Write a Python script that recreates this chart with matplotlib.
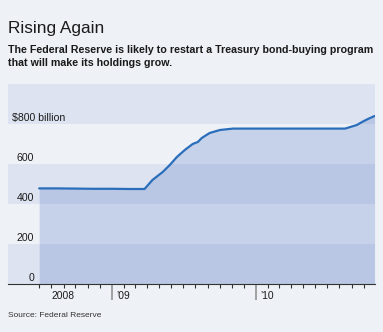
import matplotlib
matplotlib.use("Agg")
import matplotlib.pyplot as plt
import matplotlib.transforms as mtransforms
from datetime import datetime

plt.rcParams['font.family'] = ['Liberation Sans', 'DejaVu Sans']

# ---- data ----
dates = ["2008-07-01", "2008-08-15", "2008-10-01", "2008-11-15", "2009-01-01",
         "2009-02-15", "2009-03-25", "2009-04-14", "2009-05-10", "2009-05-28",
         "2009-06-15", "2009-07-05", "2009-07-25", "2009-08-07", "2009-08-17",
         "2009-09-06", "2009-10-02", "2009-11-04", "2010-01-15", "2010-04-01",
         "2010-06-15", "2010-08-15", "2010-09-14", "2010-09-29", "2010-10-12",
         "2010-10-29"]
values = [478, 478, 477, 476, 476,
          475, 475, 520, 560, 595,
          635, 670, 700, 710, 730,
          755, 770, 777, 777, 777,
          777, 777, 795, 812, 825,
          840]
y_ticks = [0, 200, 400, 600, 800]
y_labels = ["0", "200", "400", "600", "$800 billion"]
year_labels = ["2008", "\u201909", "\u201910"]
year_label_dates = ["2008-08-01", "2009-01-12", "2010-01-12"]
title = "Rising Again"
subtitle_lines = ["The Federal Reserve is likely to restart a Treasury bond-buying program",
                  "that will make its holdings grow."]
source = "Source: Federal Reserve"

x = [datetime.strptime(d, "%Y-%m-%d") for d in dates]

BG = "#eef2f7"
BAND = "#dde3f0"
LINE = "#2a6ebb"
FILL = "#4e76c3"
TXT = "#1a1a1a"

W, H = 383, 332
fig = plt.figure(figsize=(W / 100, H / 100), dpi=100, facecolor=BG)
ax = fig.add_axes([8 / W, (H - 284) / H, (375 - 8) / W, 200 / H])
ax.set_facecolor(BG)

ax.set_xlim(datetime(2008, 4, 13), datetime(2010, 10, 30))
ax.set_ylim(0, 1000)

# alternating bands
for lo in (0, 400, 800):
    ax.axhspan(lo, lo + 200, color=BAND, zorder=0, lw=0)

ax.fill_between(x, 0, values, color=FILL, alpha=0.25, lw=0, zorder=1)
ax.plot(x, values, color=LINE, lw=1.6, zorder=3, solid_capstyle="round")

for s in ("top", "right", "left"):
    ax.spines[s].set_visible(False)
ax.spines["bottom"].set_color("#333333")
ax.spines["bottom"].set_linewidth(0.8)
ax.set_yticks([])

# x ticks: monthly minor, yearly major
minor = [datetime(y, m, 1) for y in (2008, 2009, 2010) for m in range(1, 13)
         if datetime(2008, 7, 1) <= datetime(y, m, 1) <= datetime(2010, 10, 1) and m != 1]
major = [datetime(2009, 1, 1), datetime(2010, 1, 1)]
ax.set_xticks(major)
ax.set_xticklabels([])
ax.set_xticks(minor, minor=True)
ax.tick_params(axis="x", which="minor", length=3, width=0.8, color="#333333", direction="out")
ax.tick_params(axis="x", which="major", length=11.5, width=1.3, color="#9a9a9a", direction="out")

# y labels inside the plot
ytr = mtransforms.blended_transform_factory(ax.transAxes, ax.transData)
for v, lab in zip(y_ticks, y_labels):
    if lab.startswith("$"):
        ax.text(4 / 367, v + 16, lab, transform=ytr, ha="left", va="baseline",
                fontsize=7.6, color=TXT)
    else:
        ax.text(26 / 367, v + 16, lab, transform=ytr, ha="right", va="baseline",
                fontsize=7.6, color=TXT)

# year labels
xtr = mtransforms.blended_transform_factory(ax.transData, ax.transAxes)
for d, lab in zip(year_label_dates, year_labels):
    ax.text(datetime.strptime(d, "%Y-%m-%d"), -15 / 200, lab, transform=xtr,
            ha="left", va="baseline", fontsize=7.4, color=TXT)

fig.text(8 / W, 1 - 33 / H, title, fontsize=12.4, color=TXT, va="baseline", ha="left")
for i, line in enumerate(subtitle_lines):
    fig.text(8 / W, 1 - (53 + 12.5 * i) / H, line, fontsize=7.7, fontweight="bold",
             color=TXT, va="baseline", ha="left")
fig.text(8 / W, 1 - 317 / H, source, fontsize=6, color="#333333", va="baseline", ha="left")

fig.savefig("out.png", dpi=100, facecolor=BG)
